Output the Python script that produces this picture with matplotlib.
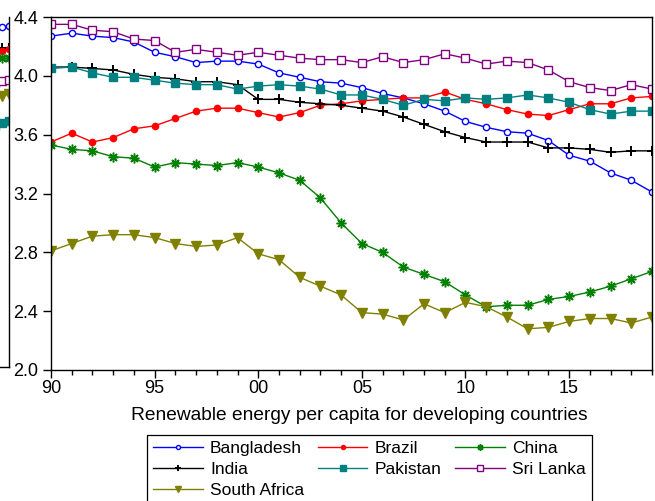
import matplotlib
matplotlib.use("Agg")
import matplotlib.pyplot as plt
from matplotlib.ticker import FixedLocator, MultipleLocator, FuncFormatter

plt.rcParams["font.family"] = ["Liberation Sans", "DejaVu Sans"]

# ---------------------------------------------------------------- data
years = list(range(1990, 2020))

bangladesh = [4.27, 4.29, 4.27, 4.26, 4.23, 4.16, 4.13, 4.09, 4.10, 4.10,
              4.08, 4.02, 3.99, 3.96, 3.95, 3.92, 3.88, 3.85, 3.81, 3.76,
              3.69, 3.65, 3.62, 3.61, 3.56, 3.46, 3.42, 3.34, 3.29, 3.21]
brazil = [3.55, 3.61, 3.55, 3.58, 3.64, 3.66, 3.71, 3.76, 3.78, 3.78,
          3.75, 3.72, 3.75, 3.80, 3.81, 3.83, 3.84, 3.85, 3.85, 3.89,
          3.84, 3.81, 3.77, 3.74, 3.73, 3.77, 3.81, 3.81, 3.85, 3.86]
china = [3.53, 3.50, 3.49, 3.45, 3.44, 3.38, 3.41, 3.40, 3.39, 3.41,
         3.38, 3.34, 3.29, 3.17, 3.00, 2.86, 2.80, 2.70, 2.65, 2.60,
         2.51, 2.43, 2.44, 2.44, 2.48, 2.50, 2.53, 2.57, 2.62, 2.67]
india = [4.06, 4.06, 4.05, 4.04, 4.01, 3.99, 3.98, 3.96, 3.96, 3.94,
         3.84, 3.84, 3.82, 3.81, 3.80, 3.78, 3.76, 3.72, 3.67, 3.62,
         3.58, 3.55, 3.55, 3.55, 3.51, 3.51, 3.50, 3.48, 3.49, 3.49]
pakistan = [4.05, 4.06, 4.02, 3.99, 3.99, 3.97, 3.95, 3.94, 3.94, 3.91,
            3.93, 3.94, 3.93, 3.91, 3.87, 3.87, 3.84, 3.80, 3.84, 3.83,
            3.85, 3.84, 3.85, 3.87, 3.85, 3.82, 3.77, 3.74, 3.76, 3.76]
sri_lanka = [4.35, 4.35, 4.31, 4.30, 4.25, 4.24, 4.16, 4.18, 4.16, 4.14,
             4.16, 4.14, 4.12, 4.11, 4.11, 4.09, 4.13, 4.09, 4.11, 4.15,
             4.12, 4.08, 4.10, 4.09, 4.04, 3.96, 3.92, 3.90, 3.94, 3.91]
south_africa = [2.81, 2.86, 2.91, 2.92, 2.92, 2.90, 2.86, 2.84, 2.85, 2.90,
                2.79, 2.75, 2.63, 2.57, 2.51, 2.39, 2.38, 2.34, 2.45, 2.39,
                2.46, 2.43, 2.36, 2.28, 2.29, 2.33, 2.35, 2.35, 2.32, 2.36]

# tail of the neighbouring panel (last three years)
prev_years = [2017, 2018, 2019]
prev_bangladesh = [4.33, 4.33, 4.34]
prev_india = [4.19, 4.19, 4.19]
prev_brazil = [4.16, 4.17, 4.18]
prev_china = [4.12, 4.12, 4.12]
prev_sri_lanka = [3.95, 3.96, 3.97]
prev_south_africa = [3.86, 3.86, 3.87]
prev_pakistan = [3.65, 3.67, 3.69]

y_ticks = [2.0, 2.4, 2.8, 3.2, 3.6, 4.0, 4.4]
x_ticks = [1990, 1995, 2000, 2005, 2010, 2015]
x_tick_labels = ["90", "95", "00", "05", "10", "15"]

# ---------------------------------------------------------------- styles
styles = {
    "Bangladesh": dict(color="#0000ff", marker="o", ms=4.5, mfc="white", mew=1.0),
    "Brazil": dict(color="#ff0000", marker="o", ms=4.5, mfc="#ff0000", mew=1.0),
    "China": dict(color="#008000", marker=(8, 2, 0), ms=7, mew=1.1),
    "India": dict(color="black", marker="+", ms=7, mew=1.4),
    "Pakistan": dict(color="#008080", marker="s", ms=6, mfc="#008080", mew=1.0),
    "Sri Lanka": dict(color="#800080", marker="s", ms=6, mfc="white", mew=1.0),
    "South Africa": dict(color="#808000", marker="v", ms=6.5, mfc="#808000", mew=1.0),
}

series = [
    ("Bangladesh", bangladesh),
    ("Brazil", brazil),
    ("China", china),
    ("India", india),
    ("Pakistan", pakistan),
    ("Sri Lanka", sri_lanka),
    ("South Africa", south_africa),
]

prev_series = [
    ("Bangladesh", prev_bangladesh),
    ("India", prev_india),
    ("Brazil", prev_brazil),
    ("China", prev_china),
    ("Sri Lanka", prev_sri_lanka),
    ("South Africa", prev_south_africa),
    ("Pakistan", prev_pakistan),
]

W, H = 655, 501
fig = plt.figure(figsize=(W / 100, H / 100), dpi=100)

# ---------------------------------------------------------------- neighbouring panel edge
pa = fig.add_axes([-0.3, 1 - 367 / H, 0.3 + 9 / W, 350 / H])
for name, vals in prev_series:
    st = styles[name]
    pa.plot(prev_years, vals, lw=1.0, color=st["color"], marker=st["marker"],
            ms=st["ms"], mfc=st.get("mfc", st["color"]), mec=st["color"], mew=st["mew"])
pa.set_xlim(1990, 2019)
pa.set_ylim(2.0, 4.4)
for side in ("left", "top"):
    pa.spines[side].set_visible(False)
for side in ("right", "bottom"):
    pa.spines[side].set_linewidth(1.0)
pa.set_xticks([])
pa.set_yticks([])

# ---------------------------------------------------------------- main panel
ax = fig.add_axes([51 / W, 1 - 370 / H, (652 - 51) / W, (370 - 17) / H])
handles = {}
for name, vals in series:
    st = styles[name]
    (ln,) = ax.plot(years, vals, lw=1.0, color=st["color"], marker=st["marker"],
                    ms=st["ms"], mfc=st.get("mfc", st["color"]), mec=st["color"],
                    mew=st["mew"], label=name)
    handles[name] = ln

ax.set_xlim(1990, 2019)
ax.set_ylim(2.0, 4.4)
ax.xaxis.set_major_locator(FixedLocator(x_ticks))
ax.set_xticklabels(x_tick_labels)
ax.xaxis.set_minor_locator(MultipleLocator(1))
ax.set_yticks(y_ticks)
ax.yaxis.set_major_formatter(FuncFormatter(lambda v, p: f"{v:.1f}"))

ax.tick_params(axis="x", which="major", direction="out", length=6, width=1.0,
               labelsize=13, pad=1.5, top=False)
ax.tick_params(axis="x", which="minor", direction="out", length=3.5, width=1.0, top=False)
ax.tick_params(axis="y", which="major", direction="out", length=6, width=1.0,
               labelsize=13, pad=3, right=False)
for sp in ax.spines.values():
    sp.set_linewidth(1.0)

fig.text(359 / W, 1 - 415 / H, "Renewable energy per capita for developing countries",
         ha="center", va="center", fontsize=13.8)

order = ["Bangladesh", "India", "South Africa", "Brazil", "Pakistan", "China", "Sri Lanka"]
leg = fig.legend([handles[n] for n in order], order, loc="upper left",
                 bbox_to_anchor=(147 / W, 1 - 435 / H), ncol=3, fontsize=12.5,
                 frameon=True, fancybox=False, framealpha=1, edgecolor="black",
                 handlelength=2.86, handletextpad=0.42, columnspacing=0.78,
                 borderpad=0.35, labelspacing=0.32, markerscale=0.65, borderaxespad=0)
leg.get_frame().set_linewidth(0.9)

fig.savefig("out.png", dpi=100)
